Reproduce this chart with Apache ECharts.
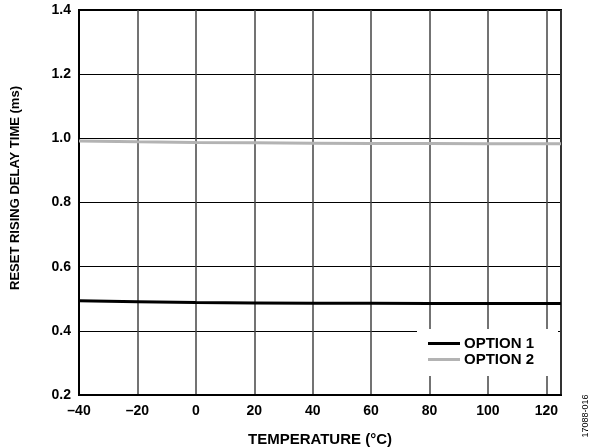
<!DOCTYPE html>
<html>
<head>
<meta charset="utf-8">
<script src="https://cdn.jsdelivr.net/npm/echarts@6/dist/echarts.min.js"></script>
<style>
html,body{margin:0;padding:0;background:#fff;}
#chart{width:591px;height:448px;}
</style>
</head>
<body>
<div id="chart"></div>
<script>
const temperatures = [-40, -20, 0, 20, 40, 60, 80, 100, 125];
const option1 = [0.494, 0.491, 0.488, 0.487, 0.486, 0.486, 0.485, 0.485, 0.485];
const option2 = [0.992, 0.989, 0.987, 0.986, 0.985, 0.984, 0.984, 0.983, 0.983];
const seriesNames = ['OPTION 1', 'OPTION 2'];
const xTitle = 'TEMPERATURE (°C)';
const yTitle = 'RESET RISING DELAY TIME (ms)';
const figId = '17088-016';

const pairs = (xs, ys) => xs.map((x, i) => [x, ys[i]]);
const font = 'Liberation Sans, Arial, sans-serif';

const chart = echarts.init(document.getElementById('chart'), null, {renderer: 'canvas'});
chart.setOption({
  animation: false,
  backgroundColor: '#fff',
  grid: {left: 79, right: 30, top: 10, bottom: 53, show: true, borderColor: '#000', borderWidth: 2,
    backgroundColor: 'transparent', containLabel: false, outerBoundsMode: 'none'},
  xAxis: {
    type: 'value', min: -40, max: 125, interval: 20,
    name: xTitle, nameLocation: 'middle', nameGap: 37,
    nameTextStyle: {fontFamily: font, fontWeight: 'bold', fontSize: 15, color: '#000'},
    axisLine: {show: true, onZero: false, lineStyle: {color: '#000', width: 2}},
    axisTick: {show: false},
    axisLabel: {showMaxLabel: false, margin: 9, fontFamily: font, fontWeight: 'bold', fontSize: 14, color: '#000',
      formatter: v => (v < 0 ? '\u2013' + Math.abs(v) : String(v))},
    splitLine: {show: true, lineStyle: {color: '#444', width: 1.5}}
  },
  yAxis: {
    type: 'value', min: 0.2, max: 1.4, interval: 0.2,
    axisLine: {show: true, onZero: false, lineStyle: {color: '#000', width: 2}},
    axisTick: {show: false},
    axisLabel: {margin: 8, fontFamily: font, fontWeight: 'bold', fontSize: 14, color: '#000',
      formatter: v => v.toFixed(1)},
    splitLine: {show: true, lineStyle: {color: '#000', width: 1}}
  },
  legend: {
    orient: 'vertical', left: 417, top: 329,
    backgroundColor: '#fff',
    padding: [7, 24, 9, 11],
    icon: 'rect',
    itemWidth: 32, itemHeight: 3, itemGap: 1,
    textStyle: {fontFamily: font, fontWeight: 'bold', fontSize: 15, lineHeight: 14, color: '#000', padding: [0, 0, 0, -1]},
    data: seriesNames
  },
  series: [
    {name: seriesNames[0], type: 'line', data: pairs(temperatures, option1), symbol: 'none',
      lineStyle: {color: '#000', width: 3}, itemStyle: {color: '#000'}, z: 3},
    {name: seriesNames[1], type: 'line', data: pairs(temperatures, option2), symbol: 'none',
      lineStyle: {color: '#b3b3b3', width: 3}, itemStyle: {color: '#b3b3b3'}, z: 3}
  ],
  graphic: [
    {type: 'text', x: 15, y: 188, rotation: Math.PI / 2,
      style: {text: yTitle, font: 'bold 13px ' + font, fill: '#000', align: 'center', verticalAlign: 'middle'}},
    {type: 'text', x: 586, y: 416, rotation: Math.PI / 2,
      style: {text: figId, font: '9px ' + font, fill: '#000', align: 'center', verticalAlign: 'middle'}}
  ]
});
</script>
</body>
</html>
